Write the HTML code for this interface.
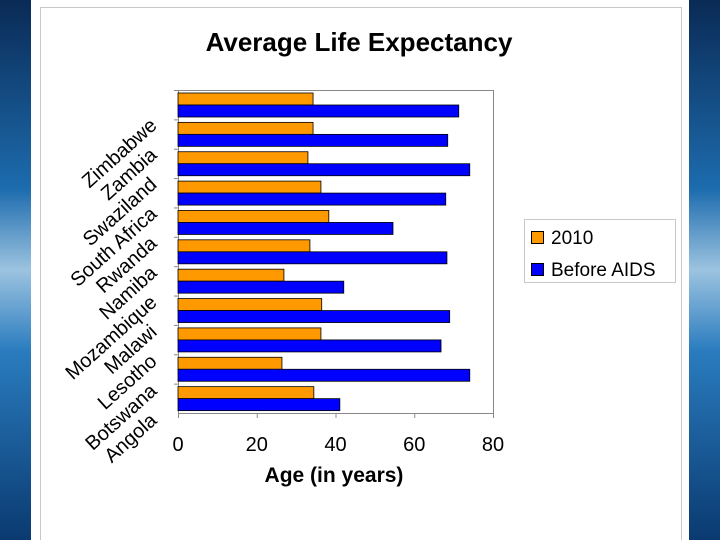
<!DOCTYPE html>
<html><head><meta charset="utf-8"><style>
body{margin:0;width:720px;height:540px;overflow:hidden;background:#fff;font-family:"Liberation Sans",sans-serif}
</style></head><body>
<svg width="720" height="540">
<defs>
<linearGradient id="lg" x1="0" y1="0" x2="0" y2="1"><stop offset="0" stop-color="#0a2a55"/><stop offset="0.35" stop-color="#1d6cae"/><stop offset="0.5" stop-color="#9cc3e0"/><stop offset="0.65" stop-color="#2a7cbf"/><stop offset="1" stop-color="#0a3a70"/></linearGradient>
</defs>
<rect x="0" y="0" width="31" height="540" fill="url(#lg)"/>
<rect x="689" y="0" width="31" height="540" fill="url(#lg)"/>
<rect x="40.5" y="7.5" width="641" height="540" fill="#fff" stroke="#c8c8c8"/>
<text x="359" y="51" text-anchor="middle" font-size="26" font-weight="bold">Average Life Expectancy</text>
<g id="plot"></g>
<text x="334" y="482" text-anchor="middle" font-size="21" font-weight="bold">Age (in years)</text>
<rect x="524.5" y="219.5" width="151" height="63" fill="#fff" stroke="#c8c8c8"/>
<rect x="531.5" y="231.5" width="12" height="12" fill="#ff9900" stroke="#000"/>
<text x="551" y="244" font-size="19">2010</text>
<rect x="531.5" y="263.5" width="12" height="12" fill="#0000ff" stroke="#000"/>
<text x="551" y="276" font-size="19">Before AIDS</text>
</svg>
<script>
const categories=["Zimbabwe","Zambia","Swaziland","South Africa","Rwanda","Namiba","Mozambique","Malawi","Lesotho","Botswana","Angola"];
const values2010=[34.3,34.3,33,36.3,38.3,33.5,26.9,36.5,36.3,26.4,34.5];
const valuesBefore=[71.3,68.5,74.1,68,54.6,68.3,42.1,69,66.8,74.1,41.1];
const xTicks=[0,20,40,60,80];
const NS="http://www.w3.org/2000/svg";
const L=178,R=493,T=90,B=413,XMAX=80;
const x=v=>L+(v/XMAX)*(R-L);
const band=(B-T)/categories.length;
const g=document.getElementById('plot');
function mk(t,a){const e=document.createElementNS(NS,t);for(const k in a)e.setAttribute(k,a[k]);g.appendChild(e);return e;}
const frame=mk('rect',{x:L+0.5,y:T+0.5,width:R-L,height:B-T,fill:'none',stroke:'#888'});


categories.forEach((c,i)=>{
 const y0=T+i*band;
 const b1=mk('rect',{x:L,y:y0+3,width:x(values2010[i])-L,height:12,fill:'#ff9900',stroke:'#000','stroke-width':0.8});
 
 
 const b2=mk('rect',{x:L,y:y0+15,width:x(valuesBefore[i])-L,height:12,fill:'#0000ff',stroke:'#000','stroke-width':0.8});
 
 
 const tk=mk('line',{x1:L-4,x2:L,y1:y0+0.5,y2:y0+0.5,stroke:'#888'});
 
 
 const lx=158,ly=122+i*29.5+5;
 const lb=mk('text',{x:lx,y:ly,'text-anchor':'end','font-size':20,transform:`rotate(-42 ${lx} ${ly})`});
 lb.textContent=c;
 
 
});
xTicks.forEach(v=>{
 const t=mk('line',{x1:x(v)+0.5,x2:x(v)+0.5,y1:B,y2:B+5,stroke:'#888'});
 
 
 const l=mk('text',{x:x(v),y:B+38,'text-anchor':'middle','font-size':20});
 l.textContent=v;
 
 
});
</script>
</body></html>
